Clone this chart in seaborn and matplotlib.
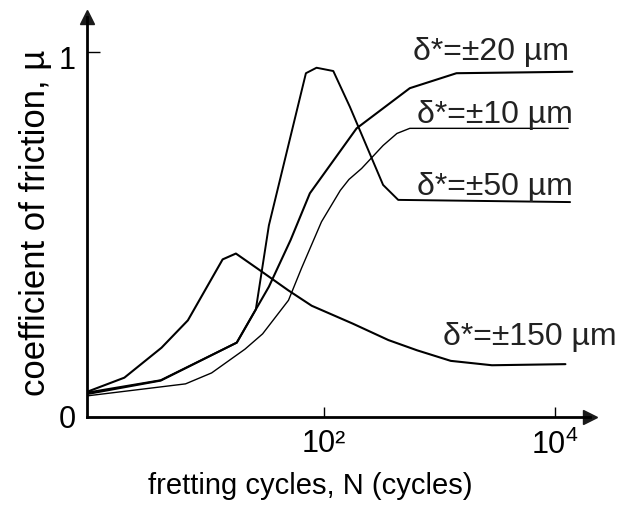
"""
Coefficient of friction vs. fretting cycles for four slip amplitudes.
"""

import matplotlib
matplotlib.use("Agg")
import matplotlib.pyplot as plt
import matplotlib.transforms as mtransforms
from matplotlib.ticker import NullLocator
import seaborn as sns

# ── Data ─────────────────────────────────────────────────────────────

N_20 = [0.88, 3.84, 17.5, 25.6, 33.2, 51.2, 75.2, 191, 552, 1400, 14100]
MU_20 = [0.062, 0.099, 0.203, 0.294, 0.356, 0.484, 0.612, 0.790, 0.900, 0.941, 0.945]

N_10 = [0.88, 6.3, 10.6, 20.6, 29.3, 49.1, 63.7, 94.8, 138, 164, 211, 324, 427, 552, 13000]
MU_10 = [0.057, 0.090, 0.120, 0.185, 0.227, 0.319, 0.407, 0.534, 0.620, 0.650,
         0.680, 0.743, 0.776, 0.790, 0.790]

N_50 = [0.88, 3.84, 17.5, 25.6, 33.2, 69.5, 85.9, 120, 167, 324, 438, 13500]
MU_50 = [0.066, 0.100, 0.203, 0.294, 0.524, 0.941, 0.956, 0.947, 0.849, 0.635, 0.594, 0.588]

N_150 = [0.88, 1.86, 3.9, 6.6, 13.2, 17.2, 27.8, 49, 78, 177, 360, 637, 1250, 2840, 12300]
MU_150 = [0.068, 0.107, 0.189, 0.264, 0.431, 0.447, 0.401, 0.346, 0.304, 0.255,
          0.210, 0.182, 0.153, 0.141, 0.144]

LABELS = ["δ*=±20 µm", "δ*=±10 µm", "δ*=±50 µm", "δ*=±150 µm"]
X_TICKS = [100, 10000]
X_TICK_LABELS = ["10²", r"$\mathregular{10^4}$"]
Y_TICKS = [0, 1]

# ── Theme ────────────────────────────────────────────────────────────

sns.set_theme(style="ticks")
plt.rcParams["font.family"] = ["Liberation Sans", "DejaVu Sans"]

fig = plt.figure(figsize=(6.21, 5.09), dpi=100)
ax = fig.add_axes([0.1396, 0.1813, 0.8105, 0.7853])
ax.set_xscale("log")

series = [
    (N_20, MU_20, 1.5),
    (N_10, MU_10, 1.0),
    (N_50, MU_50, 1.4),
    (N_150, MU_150, 1.5),
]
for n, mu, lw in series:
    sns.lineplot(x=n, y=mu, color="black", lw=lw, ax=ax,
                 estimator=None, sort=False)

ax.set_xlim(0.877, 20090)
ax.set_ylim(0, 1.095)

# axes with arrow heads
sns.despine(ax=ax)
for side in ("left", "bottom"):
    ax.spines[side].set_linewidth(2)
    ax.spines[side].set_color("black")
ax.plot(1, 0, ">k", ms=9.5, transform=ax.transAxes, clip_on=False)
ax.plot(0, 1, "^k", ms=9.5, transform=ax.transAxes, clip_on=False)

ax.set_xticks(X_TICKS)
ax.set_xticklabels(X_TICK_LABELS)
ax.xaxis.set_minor_locator(NullLocator())
ax.set_yticks(Y_TICKS)
ax.tick_params(axis="x", direction="in", length=7, width=1, pad=9,
               labelsize=22, color="black", labelcolor="black")
ax.tick_params(axis="y", direction="in", length=9.5, width=1, pad=8,
               labelsize=22, color="black", labelcolor="black")

# the "1" sits a little below its tick in the original
shift = mtransforms.ScaledTranslation(0, -4 / 72, fig.dpi_scale_trans)
lab_one = ax.get_yticklabels()[1]
lab_one.set_transform(lab_one.get_transform() + shift)

ax.set_xlabel("fretting cycles, N (cycles)", fontsize=21, color="black")
ax.xaxis.set_label_coords(0.4437, -0.138)
ax.set_ylabel("coefficient of friction, µ", fontsize=25, color="black")
ax.yaxis.set_label_coords(-0.069, 0.486)

# curve labels
label_pos = [(413, 449), (417, 386), (417, 314), (443, 164)]
for text, (px, py) in zip(LABELS, label_pos):
    ax.annotate(text, xy=(px, py), xycoords="figure pixels",
                ha="left", va="baseline", fontsize=23, color="#222222")

fig.savefig("out.png", dpi=100)
plt.close(fig)
